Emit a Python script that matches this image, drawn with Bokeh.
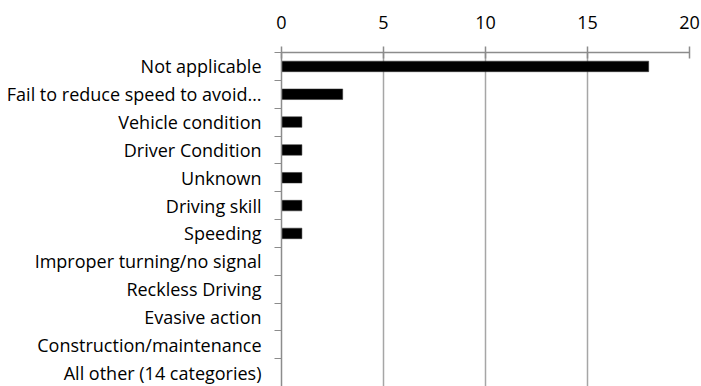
from bokeh.plotting import figure
from bokeh.models import Range1d, FixedTicker, ColumnDataSource
from bokeh.embed import file_html
from bokeh.resources import INLINE

categories = ["Not applicable", "Fail to reduce speed to avoid\u2026", "Vehicle condition",
              "Driver Condition", "Unknown", "Driving skill", "Speeding",
              "Improper turning/no signal", "Reckless Driving", "Evasive action",
              "Construction/maintenance", "All other (14 categories)"]
values = [18, 3, 1, 1, 1, 1, 1, 0, 0, 0, 0, 0]
x_ticks = [0, 5, 10, 15, 20]

n = len(categories)
pos = [i + 0.5 for i in range(n)]
src = ColumnDataSource(dict(y=pos, v=values, cat=categories))

FONT = "Open Sans"
GRID = "#a6a6a6"
AXIS = "#8c8c8c"

p = figure(width=700, height=386, output_backend="svg", toolbar_location=None,
           x_range=Range1d(0, 20), y_range=Range1d(n, 0),
           x_axis_location="above",
           min_border_left=281, min_border_right=11, min_border_top=52, min_border_bottom=0)
p.outline_line_color = None
p.background_fill_color = "white"
p.border_fill_color = "white"

p.hbar(y="y", right="v", left=0, height=0.38, source=src,
       fill_color="black", line_color="#333333", line_width=0.5)

xa = p.xaxis[0]
xa.ticker = FixedTicker(ticks=x_ticks)
xa.axis_line_color = AXIS
xa.axis_line_width = 1.5
xa.major_tick_line_color = AXIS
xa.major_tick_line_width = 1.5
xa.major_tick_in = 6
xa.major_tick_out = 6
xa.minor_tick_line_color = None
xa.major_label_text_font = FONT
xa.major_label_text_font_size = "18px"
xa.major_label_text_color = "black"
xa.major_label_standoff = 18

ya = p.yaxis[0]
ya.ticker = FixedTicker(ticks=pos, minor_ticks=list(range(n + 1)))
ya.major_label_overrides = {p_: c for p_, c in zip(pos, categories)}
ya.axis_line_color = AXIS
ya.axis_line_width = 1.5
ya.major_tick_line_color = None
ya.major_tick_in = 0
ya.major_tick_out = 0
ya.minor_tick_line_color = AXIS
ya.minor_tick_line_width = 1
ya.minor_tick_in = 0
ya.minor_tick_out = 7
ya.major_label_text_font = FONT
ya.major_label_text_font_size = "18px"
ya.major_label_text_color = "black"
ya.major_label_standoff = 13

p.xgrid.ticker = FixedTicker(ticks=x_ticks)
p.xgrid.grid_line_color = GRID
p.xgrid.grid_line_width = 1.5
p.ygrid.grid_line_color = None

open("out.html", "w").write(file_html(p, INLINE))
